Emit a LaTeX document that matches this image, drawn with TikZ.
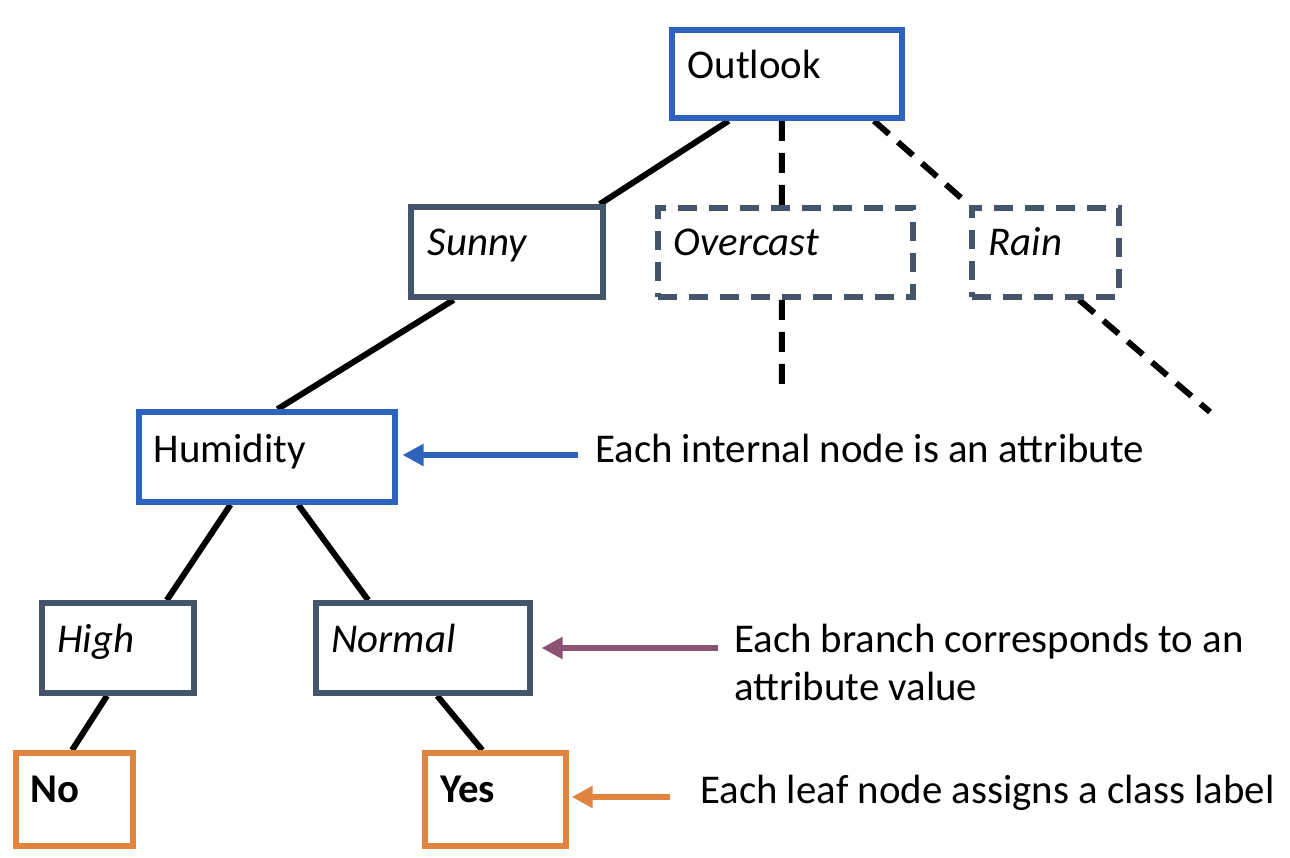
\documentclass[tikz,border=0pt]{standalone}
\usepackage{fontspec}
\setmainfont{Carlito}
\usetikzlibrary{calc,arrows.meta,backgrounds}
\definecolor{cblue}{HTML}{2E63BD}
\definecolor{cslate}{HTML}{44546A}
\definecolor{corange}{HTML}{E0843F}
\definecolor{cpurple}{HTML}{8C5274}
\begin{document}
\begin{tikzpicture}[x=1bp,y=-1bp,
  every node/.style={font=\fontsize{41}{49}\selectfont},
  box/.style={draw, line width=6bp, fill=white, inner sep=0pt, minimum width=#1},
  attrbox/.style={box=#1, draw=cblue},
  valbox/.style={box=#1, draw=cslate},
  dbox/.style={box=#1, draw=cslate, dash pattern=on 19bp off 12bp},
  leafbox/.style={box=#1, draw=corange},
  lbl/.style={anchor=base west, inner sep=0pt},
  conn/.style={line width=6bp, black},
  dconn/.style={conn, dash pattern=on 20bp off 12bp},
  note/.style={anchor=base west, inner sep=0pt},
  pointer/.style={line width=6bp, -{Triangle[length=21bp,width=21bp]}}
]
\useasboundingbox (0,0) rectangle (1290,858);

% boxes
\node[attrbox=230, minimum height=88] (outlook) at (787,74) {};
\node[valbox=192, minimum height=90] (sunny) at (507,252) {};
\node[dbox=255, minimum height=89] (overcast) at (785.5,252.5) {};
\node[dbox=147, minimum height=89] (rain) at (1045.5,252.5) {};
\node[attrbox=256, minimum height=90] (humidity) at (267,457) {};
\node[valbox=152, minimum height=90] (high) at (118,648) {};
\node[valbox=214, minimum height=90] (normal) at (423,648) {};
\node[leafbox=117, minimum height=93] (no) at (74.5,799.5) {};
\node[leafbox=141, minimum height=93] (yes) at (495.5,799.5) {};

% box labels
\node[lbl] (outlookT) at ($(outlook.north west)+(18,51)$) {Outlook};
\node[lbl] (sunnyT) at ($(sunny.north west)+(19,51)$) {\itshape Sunny};
\node[lbl] (overcastT) at ($(overcast.north west)+(18,50)$) {\itshape Overcast};
\node[lbl] (rainT) at ($(rain.north west)+(19,50)$) {\itshape Rain};
\node[lbl] (humidityT) at ($(humidity.north west)+(17,53)$) {Humidity};
\node[lbl] (highT) at ($(high.north west)+(18,52)$) {\itshape High};
\node[lbl] (normalT) at ($(normal.north west)+(18,52)$) {\itshape Normal};
\node[lbl] (noT) at ($(no.north west)+(17,52)$) {\bfseries No};
\node[lbl] (yesT) at ($(yes.north west)+(18,52)$) {\bfseries Yes};

% free ends
\coordinate (ovEnd) at (782,395);
\coordinate (rainEnd) at (1210,412);

\begin{scope}[on background layer]
\draw[conn] ($(outlook.south west)!0.252!(outlook.south east)$) -- ($(sunny.north west)!0.97!(sunny.north east)$);
\draw[dconn] ($(outlook.south west)!0.478!(outlook.south east)$) -- ($(overcast.north west)!0.486!(overcast.north east)$);
\draw[dconn] ($(outlook.south west)!0.87!(outlook.south east)$) -- (rain.north west);
\draw[dconn] ($(overcast.south west)!0.486!(overcast.south east)$) -- (ovEnd);
\draw[dconn] ($(rain.south west)!0.72!(rain.south east)$) -- (rainEnd);
\draw[conn] ($(sunny.south west)!0.23!(sunny.south east)$) -- ($(humidity.north west)!0.54!(humidity.north east)$);
\draw[conn] ($(humidity.south west)!0.36!(humidity.south east)$) -- ($(high.north west)!0.81!(high.north east)$);
\draw[conn] ($(humidity.south west)!0.62!(humidity.south east)$) -- ($(normal.north west)!0.25!(normal.north east)$);
\draw[conn] ($(high.south west)!0.43!(high.south east)$) -- ($(no.north west)!0.48!(no.north east)$);
\draw[conn] ($(normal.south west)!0.565!(normal.south east)$) -- ($(yes.north west)!0.41!(yes.north east)$);
\end{scope}

% annotations
\coordinate (a1) at (578,455);
\coordinate (a2) at (718,648);
\coordinate (a3) at (670,797);
\draw[pointer, cblue] (a1) -- ([xshift=5bp]a1 -| humidity.east);
\draw[pointer, cpurple] (a2) -- ([xshift=9bp]a2 -| normal.east);
\draw[pointer, corange] (a3) -- ([xshift=3bp]a3 -| yes.east);

\node[note] (n1) at (595,462) {Each internal node is an attribute};
\node[note] (n2a) at (734,652) {Each branch corresponds to an};
\node[note] (n2b) at (734,700) {attribute value};
\node[note] (n3) at (700,803) {Each leaf node assigns a class label};
\end{tikzpicture}
\end{document}
